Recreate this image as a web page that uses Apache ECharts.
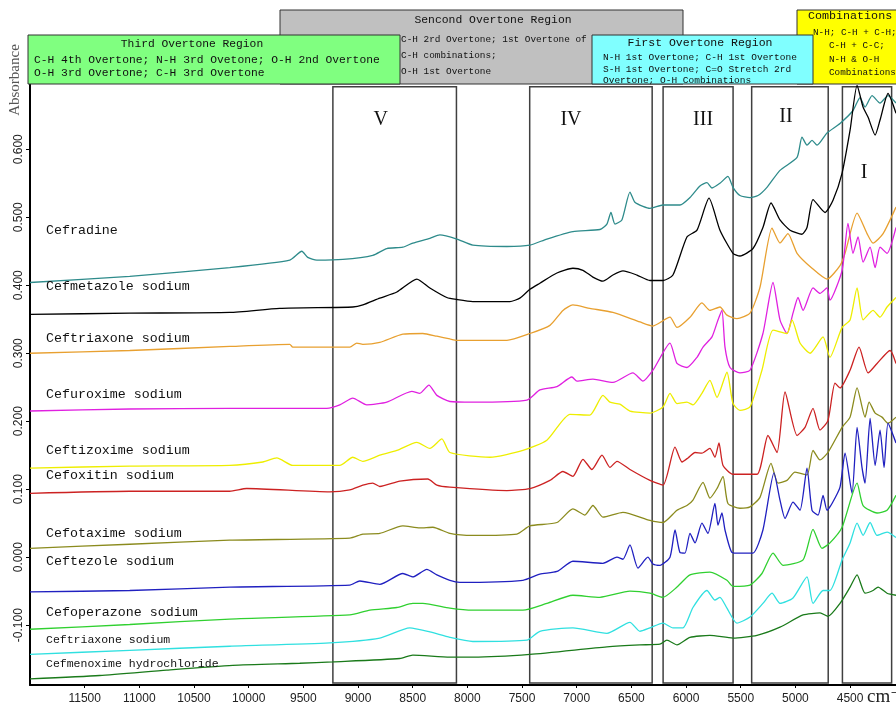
<!DOCTYPE html>
<html>
<head>
<meta charset="utf-8">
<script src="https://cdn.jsdelivr.net/npm/echarts@6/dist/echarts.min.js"></script>
<style>
html,body{margin:0;padding:0;background:#fff}
#chart{width:896px;height:707px}
</style>
</head>
<body>
<div id="chart"></div>
<script>
// Axis ticks
const wnTicks = [11500, 11000, 10500, 10000, 9500, 9000, 8500, 8000, 7500, 7000, 6500, 6000, 5500, 5000, 4500];
const absTicks = [-0.1, 0, 0.1, 0.2, 0.3, 0.4, 0.5, 0.6];

// Sample names (top to bottom)
const sampleNames = ['Cefradine', 'Cefmetazole sodium', 'Ceftriaxone sodium', 'Cefuroxime sodium',
  'Ceftizoxime sodium', 'Cefoxitin sodium', 'Cefotaxime sodium', 'Ceftezole sodium',
  'Cefoperazone sodium', 'Ceftriaxone sodium', 'Cefmenoxime hydrochloride'];

// Spectra: [wavenumber (cm-1), absorbance]
const cefradine = [[12000,0.404],[11088,0.413],[10173,0.426],[9624,0.437],[9514,0.450],[9460,0.441],[9377,0.437],[9139,0.438],[8865,0.444],[8737,0.454],[8590,0.456],[8499,0.462],[8343,0.469],[8252,0.474],[8096,0.468],[7950,0.459],[7639,0.457],[7428,0.459],[7273,0.468],[7035,0.479],[6788,0.482],[6724,0.490],[6687,0.507],[6650,0.490],[6587,0.496],[6513,0.537],[6468,0.522],[6394,0.516],[6330,0.513],[6211,0.518],[6056,0.518],[5964,0.529],[5873,0.546],[5809,0.551],[5763,0.543],[5690,0.550],[5617,0.560],[5571,0.544],[5507,0.532],[5415,0.529],[5342,0.532],[5260,0.544],[5141,0.569],[4985,0.588],[4940,0.618],[4894,0.606],[4848,0.613],[4802,0.606],[4711,0.624],[4592,0.638],[4473,0.657],[4409,0.676],[4363,0.662],[4299,0.679],[4226,0.668],[4153,0.679],[4080,0.668]];
const cefmetazole = [[12000,0.357],[11088,0.359],[10173,0.360],[9716,0.366],[9048,0.368],[8956,0.371],[8801,0.381],[8645,0.390],[8462,0.409],[8343,0.396],[8188,0.382],[8096,0.379],[7950,0.376],[7611,0.376],[7520,0.381],[7428,0.394],[7337,0.403],[7181,0.418],[7035,0.425],[6943,0.422],[6852,0.412],[6760,0.406],[6669,0.415],[6577,0.421],[6449,0.415],[6330,0.407],[6211,0.407],[6120,0.415],[5992,0.471],[5900,0.481],[5790,0.528],[5690,0.481],[5571,0.447],[5507,0.443],[5388,0.454],[5297,0.485],[5223,0.521],[5141,0.496],[5049,0.481],[4940,0.475],[4894,0.485],[4839,0.526],[4729,0.507],[4656,0.525],[4573,0.565],[4500,0.628],[4436,0.694],[4381,0.662],[4335,0.647],[4271,0.621],[4226,0.643],[4153,0.682],[4080,0.653]];
const ceftriaxoneA = [[12000,0.300],[11088,0.304],[10173,0.310],[9624,0.313],[9597,0.309],[9075,0.309],[9011,0.315],[8956,0.313],[8801,0.316],[8590,0.328],[8407,0.329],[8279,0.325],[8160,0.321],[8096,0.319],[7639,0.319],[7428,0.329],[7245,0.341],[7126,0.363],[7035,0.371],[6880,0.366],[6669,0.360],[6422,0.346],[6303,0.340],[6147,0.353],[6083,0.338],[5964,0.353],[5855,0.374],[5782,0.363],[5690,0.368],[5626,0.356],[5535,0.351],[5415,0.359],[5324,0.397],[5214,0.484],[5141,0.462],[5068,0.476],[4985,0.447],[4848,0.425],[4711,0.409],[4592,0.429],[4546,0.447],[4436,0.506],[4345,0.476],[4290,0.462],[4198,0.476],[4080,0.515]];
const cefuroxime = [[12000,0.215],[11088,0.218],[10173,0.219],[9286,0.219],[9167,0.224],[9048,0.234],[8920,0.224],[8737,0.228],[8508,0.244],[8435,0.241],[8352,0.253],[8279,0.238],[8160,0.229],[7950,0.228],[7456,0.231],[7337,0.246],[7181,0.251],[7044,0.265],[6998,0.259],[6852,0.262],[6669,0.257],[6486,0.271],[6394,0.259],[6303,0.275],[6147,0.315],[6083,0.285],[5992,0.279],[5900,0.294],[5845,0.309],[5763,0.324],[5708,0.349],[5672,0.363],[5644,0.309],[5598,0.279],[5507,0.271],[5415,0.275],[5297,0.329],[5205,0.404],[5141,0.349],[5077,0.329],[5022,0.359],[4976,0.382],[4930,0.363],[4839,0.396],[4775,0.388],[4711,0.396],[4684,0.378],[4573,0.422],[4519,0.491],[4473,0.447],[4427,0.471],[4381,0.434],[4317,0.456],[4271,0.426],[4226,0.456],[4162,0.447],[4080,0.485]];
const ceftizoxime = [[12000,0.131],[11088,0.134],[10173,0.135],[9871,0.140],[9743,0.146],[9597,0.135],[9167,0.135],[9048,0.147],[8956,0.141],[8801,0.150],[8645,0.157],[8462,0.169],[8343,0.160],[8233,0.174],[8160,0.154],[7794,0.147],[7492,0.157],[7273,0.172],[7062,0.210],[6880,0.209],[6760,0.238],[6696,0.228],[6605,0.225],[6513,0.215],[6330,0.212],[6211,0.221],[6147,0.241],[6083,0.226],[5992,0.228],[5937,0.224],[5855,0.241],[5782,0.260],[5717,0.235],[5626,0.272],[5571,0.226],[5507,0.216],[5415,0.221],[5306,0.275],[5205,0.334],[5077,0.329],[5031,0.349],[4958,0.315],[4866,0.300],[4747,0.324],[4684,0.294],[4573,0.338],[4500,0.349],[4436,0.396],[4381,0.349],[4290,0.363],[4226,0.353],[4162,0.368],[4080,0.382]];
const cefoxitin = [[12000,0.094],[11088,0.097],[10173,0.097],[10018,0.101],[9259,0.096],[9075,0.099],[8956,0.106],[8865,0.109],[8801,0.104],[8618,0.112],[8362,0.115],[8279,0.106],[8160,0.103],[7639,0.098],[7428,0.101],[7245,0.113],[7126,0.126],[7035,0.119],[6943,0.144],[6861,0.129],[6769,0.150],[6696,0.132],[6632,0.141],[6513,0.129],[6330,0.113],[6211,0.106],[6101,0.162],[6037,0.140],[5982,0.146],[5918,0.154],[5855,0.153],[5782,0.160],[5736,0.147],[5699,0.168],[5662,0.135],[5571,0.122],[5351,0.122],[5251,0.179],[5168,0.154],[5095,0.243],[4985,0.179],[4912,0.191],[4839,0.219],[4775,0.187],[4702,0.201],[4638,0.256],[4592,0.249],[4500,0.275],[4418,0.309],[4335,0.271],[4253,0.285],[4134,0.304],[4080,0.285]];
const cefotaxime = [[12000,0.013],[11088,0.019],[10173,0.025],[9075,0.028],[8956,0.034],[8801,0.035],[8590,0.046],[8435,0.043],[8316,0.044],[8160,0.035],[7950,0.032],[7547,0.034],[7428,0.046],[7181,0.051],[7035,0.071],[6925,0.062],[6852,0.076],[6760,0.059],[6577,0.066],[6330,0.054],[6211,0.051],[6083,0.069],[5992,0.076],[5937,0.084],[5845,0.110],[5782,0.087],[5717,0.101],[5662,0.119],[5617,0.079],[5507,0.072],[5415,0.074],[5324,0.088],[5223,0.138],[5159,0.109],[5077,0.113],[5004,0.125],[4894,0.121],[4839,0.157],[4775,0.143],[4702,0.154],[4573,0.191],[4500,0.206],[4436,0.249],[4363,0.206],[4326,0.228],[4271,0.212],[4208,0.206],[4153,0.197],[4080,0.206]];
const ceftezole = [[12000,-0.051],[11088,-0.049],[10173,-0.044],[9075,-0.041],[8984,-0.035],[8801,-0.040],[8590,-0.024],[8499,-0.029],[8371,-0.018],[8279,-0.026],[8160,-0.034],[8069,-0.037],[7492,-0.034],[7337,-0.025],[7181,-0.021],[7035,-0.006],[6760,-0.009],[6632,0.000],[6577,-0.003],[6513,0.018],[6440,-0.016],[6349,0.000],[6303,-0.010],[6239,-0.012],[6147,0.000],[6101,0.040],[6056,0.007],[6010,0.006],[5964,0.035],[5918,0.021],[5855,0.050],[5800,0.035],[5736,0.079],[5708,0.047],[5672,0.065],[5644,0.040],[5580,0.007],[5507,0.006],[5388,0.006],[5297,0.040],[5196,0.124],[5141,0.084],[5095,0.057],[5022,0.081],[4958,0.069],[4894,0.131],[4848,0.069],[4793,0.062],[4747,0.091],[4711,0.069],[4665,0.079],[4592,0.103],[4546,0.153],[4482,0.094],[4436,0.191],[4391,0.132],[4363,0.109],[4317,0.204],[4271,0.135],[4226,0.187],[4189,0.132],[4153,0.197],[4080,0.168]];
const cefoperazone = [[12000,-0.106],[11088,-0.099],[10173,-0.091],[9075,-0.085],[8892,-0.078],[8645,-0.074],[8499,-0.068],[8407,-0.068],[8160,-0.075],[7950,-0.078],[7492,-0.078],[7273,-0.068],[7035,-0.056],[6788,-0.059],[6513,-0.050],[6330,-0.053],[6211,-0.059],[6083,-0.044],[5964,-0.026],[5782,-0.022],[5626,-0.034],[5571,-0.043],[5415,-0.041],[5306,-0.024],[5205,0.006],[5113,-0.012],[4930,-0.004],[4839,0.041],[4757,0.013],[4684,0.021],[4573,0.044],[4436,0.109],[4381,0.076],[4253,0.065],[4162,0.069],[4080,0.091]];
const ceftriaxoneB = [[12000,-0.143],[11088,-0.137],[10173,-0.131],[9259,-0.126],[8801,-0.119],[8526,-0.104],[8343,-0.110],[8160,-0.118],[7950,-0.124],[7456,-0.122],[7337,-0.109],[7035,-0.104],[6724,-0.112],[6513,-0.096],[6422,-0.109],[6330,-0.104],[6211,-0.097],[6120,-0.104],[6028,-0.104],[5937,-0.074],[5809,-0.049],[5736,-0.063],[5690,-0.059],[5626,-0.075],[5535,-0.097],[5415,-0.088],[5297,-0.068],[5214,-0.053],[5141,-0.068],[5022,-0.060],[4894,-0.029],[4839,-0.068],[4747,-0.049],[4684,-0.049],[4573,-0.004],[4500,0.021],[4436,0.050],[4381,0.032],[4317,0.051],[4253,0.032],[4162,0.037],[4080,0.029]];
const cefmenoxime = [[12000,-0.179],[11363,-0.174],[10750,-0.166],[10146,-0.159],[9533,-0.156],[9231,-0.154],[8618,-0.149],[8499,-0.144],[8160,-0.147],[7950,-0.147],[7428,-0.143],[6724,-0.132],[6422,-0.129],[6239,-0.128],[6175,-0.122],[6083,-0.129],[5964,-0.118],[5782,-0.115],[5571,-0.119],[5351,-0.115],[5141,-0.103],[4930,-0.085],[4775,-0.082],[4702,-0.087],[4592,-0.068],[4500,-0.044],[4436,-0.026],[4363,-0.053],[4290,-0.049],[4244,-0.044],[4162,-0.053],[4080,-0.056]];

const spectra = [cefradine, cefmetazole, ceftriaxoneA, cefuroxime, ceftizoxime, cefoxitin,
  cefotaxime, ceftezole, cefoperazone, ceftriaxoneB, cefmenoxime];
const lineColors = ['#2e8b8b', '#000000', '#e8a030', '#e020e0', '#eeee00', '#cc2222',
  '#8b8b1e', '#2020c0', '#30d030', '#30e0e0', '#1a7a1a'];

// Analysis regions V..I (wavenumber bounds)
const regionNames = ['V', 'IV', 'III', 'II', 'I'];
const regionHigh = [9230, 7430, 6210, 5400, 4570];
const regionLow = [8100, 6310, 5570, 4700, 4120];

const MONO = '"Liberation Mono", "DejaVu Sans Mono", monospace';
const SERIF = '"Liberation Serif", "DejaVu Serif", serif';
const SANS = '"Liberation Sans", Arial, sans-serif';

const chart = echarts.init(document.getElementById('chart'), null, {renderer: 'canvas'});

// Roman numeral label placement inside each region box
const romanLayout = [
  {dx: -14, dist: 24}, {dx: -20, dist: 24}, {dx: 5, dist: 24}, {dx: -4, dist: 21}, {dx: -3, dist: 77}
];

const markAreaData = regionNames.map((n, i) => [
  {name: n, xAxis: regionHigh[i], yAxis: 0.692,
   label: {offset: [romanLayout[i].dx, 0], distance: romanLayout[i].dist}},
  {xAxis: regionLow[i], yAxis: -0.185}
]);

const series = spectra.map((d, i) => ({
  type: 'line',
  name: sampleNames[i] + '#' + i,
  data: d,
  showSymbol: false,
  smooth: 0.2,
  lineStyle: {color: lineColors[i], width: 1.3},
  silent: true,
  z: 3
}));

series[0].markArea = {
  silent: true,
  z: 1,
  itemStyle: {color: 'rgba(0,0,0,0)', borderColor: '#404040', borderWidth: 1.5},
  label: {show: true, position: 'insideTop', color: '#111', fontFamily: SERIF, fontSize: 20},
  data: markAreaData
};

// Sample labels at the left of each trace
const labelY = [232, 288, 340, 396, 452, 477, 535, 563, 614, 641, 665];
const labelSize = [13.3, 13.3, 13.3, 13.3, 13.3, 13.3, 13.3, 13.3, 13.3, 11.5, 11.5];

const graphics = [];
sampleNames.forEach((n, i) => {
  graphics.push({type: 'text', left: 46, top: labelY[i] - labelSize[i] * 0.6, silent: true, z: 10,
    style: {text: n, font: labelSize[i] + 'px ' + MONO, fill: '#111'}});
});

function box(x, y, w, h, fill) {
  return {type: 'rect', shape: {x: x, y: y, width: w, height: h}, z: 20, silent: true,
    style: {fill: fill, stroke: '#333', lineWidth: 1}};
}
function txt(t, x, y, size, align) {
  return {type: 'text', x: x, y: y, z: 21, silent: true,
    style: {text: t, font: size + 'px ' + MONO, fill: '#111', align: align || 'left', verticalAlign: 'middle'}};
}

// Spectral band annotations above the plot
graphics.push(box(280, 10, 403, 74, '#c0c0c0'));
graphics.push(txt('Sencond Overtone Region', 493, 20, 11.4, 'center'));
graphics.push(txt('C-H 2rd Overtone; 1st Overtone of', 401, 40, 9.4));
graphics.push(txt('C-H combinations;', 401, 56, 9.4));
graphics.push(txt('O-H 1st Overtone', 401, 72, 9.4));

graphics.push(box(797, 10, 110, 74, '#ffff00'));
graphics.push(txt('Combinations', 808, 16, 11.7));
graphics.push(txt('N-H; C-H + C-H;', 813, 33, 9.3));
graphics.push(txt('C-H + C-C;', 829, 46, 9.3));
graphics.push(txt('N-H & O-H', 829, 60, 9.3));
graphics.push(txt('Combinations', 829, 73, 9.3));

graphics.push(box(28, 35, 372, 49, '#80ff80'));
graphics.push(txt('Third Overtone Region', 192, 44, 11.3, 'center'));
graphics.push(txt('C-H 4th Overtone; N-H 3rd Ovetone; O-H 2nd Overtone', 34, 60, 11.3));
graphics.push(txt('O-H 3rd Overtone; C-H 3rd Overtone', 34, 73, 11.3));

graphics.push(box(592, 35, 221, 49, '#80ffff'));
graphics.push(txt('First Overtone Region', 700, 43, 11.5, 'center'));
graphics.push(txt('N-H 1st Overtone; C-H 1st Overtone', 603, 57, 9.5));
graphics.push(txt('S-H 1st Overtone; C=O Stretch 2rd', 603, 69, 9.5));
graphics.push(txt('Overtone; O-H Combinations', 603, 80, 9.5));

// Axis titles
graphics.push({type: 'text', x: 15, y: 80, rotation: Math.PI / 2, silent: true, z: 10,
  style: {text: 'Absorbance', font: '15px ' + SERIF, fill: '#555', align: 'center', verticalAlign: 'middle'}});
graphics.push({type: 'text', x: 867, y: 697, silent: true, z: 10,
  style: {text: 'cm⁻¹', font: '19px ' + SERIF, fill: '#222', align: 'left', verticalAlign: 'middle'}});

chart.setOption({
  animation: false,
  backgroundColor: '#fff',
  grid: {left: 30, right: 0, top: 84, bottom: 22, containLabel: false},
  xAxis: {
    type: 'value', inverse: true, min: 4080, max: 12000,
    axisLine: {show: true, onZero: false, lineStyle: {color: '#000', width: 2}},
    axisTick: {show: true, customValues: wnTicks, length: 3, lineStyle: {color: '#000'}},
    axisLabel: {customValues: wnTicks, color: '#222', fontSize: 12, fontFamily: SANS, margin: 8,
      formatter: v => String(v)},
    splitLine: {show: false}
  },
  yAxis: {
    type: 'value', min: -0.188, max: 0.696,
    axisLine: {show: true, onZero: false, lineStyle: {color: '#000', width: 2}},
    axisTick: {show: true, customValues: absTicks, length: 4, lineStyle: {color: '#000'}},
    axisLabel: {customValues: absTicks, rotate: 90, color: '#222', fontSize: 12, fontFamily: SANS, margin: 5,
      formatter: v => v.toFixed(3)},
    splitLine: {show: false}
  },
  series: series,
  graphic: graphics
});
</script>
</body>
</html>
